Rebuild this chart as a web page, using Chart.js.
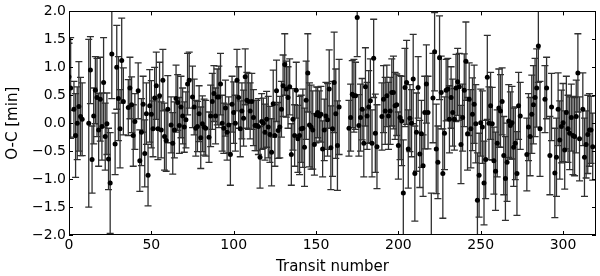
<!DOCTYPE html>
<html>
<head>
<meta charset="utf-8">
<script src="https://cdn.jsdelivr.net/npm/chart.js@4/dist/chart.umd.min.js"></script>
<style>
  html, body { margin: 0; padding: 0; background: #fff; }
  #wrap { width: 600px; height: 276px; }
</style>
</head>
<body>
<div id="wrap"><canvas id="ocChart" width="600" height="276"></canvas></div>
<script>
// Datos (número de tránsito, O-C en minutos, error)
const transit = [
  0, 1, 3, 4, 5, 6, 7, 8, 12, 13, 14, 15, 16, 17, 18, 19, 20, 21, 22, 23, 24, 25, 26, 28, 29, 30, 31, 32, 33, 36, 37, 38, 39, 40,
  42, 43, 44, 45, 46, 47, 48, 49, 50, 51, 52, 53, 54, 55, 56, 57, 58, 59, 60, 62, 63, 64, 65, 66, 67, 68, 69, 70, 71, 72, 73, 75, 76, 77, 78, 79, 80, 81,
  82, 83, 85, 86, 87, 88, 89, 90, 91, 92, 93, 94, 95, 96, 97, 98, 99, 100, 101, 102, 103, 104, 105, 106, 107, 108, 109, 110, 111, 112, 113, 114, 115, 116, 117, 118, 119, 120, 121, 122, 123, 124, 125,
  126, 127, 128, 129, 130, 131, 132, 133, 134, 135, 136, 137, 138, 139, 140, 141, 142, 143, 144, 145, 146, 147, 148, 149, 150, 151, 152, 153, 154, 155, 156, 157, 158, 159, 160, 161, 162, 163, 164,
  170, 171, 172, 173, 174, 175, 176, 177, 178, 179, 180, 181, 182, 183, 184, 185, 186, 187, 190, 191, 192, 193, 194, 195, 196, 197, 198, 199, 200, 201, 202, 203, 204, 205, 206, 207, 208,
  209, 210, 211, 212, 213, 214, 215, 216, 217, 218, 220, 221, 222, 223, 224, 225, 226, 227, 228, 229, 230, 231, 232, 233, 234, 235, 236, 237, 238, 239, 240, 241, 242, 243, 244, 245, 246, 247, 248, 249,
  250, 251, 252, 253, 254, 255, 256, 257, 258, 259, 260, 261, 262, 263, 264, 265, 266, 267, 268, 269, 270, 271, 272, 273, 274, 278, 279, 280, 281, 282, 283, 284, 285, 286, 289, 290, 292, 293,
  295, 296, 297, 298, 299, 300, 301, 302, 303, 304, 305, 306, 307, 308, 309, 310, 312, 313, 314, 315, 316, 317, 318
];
const ocMin = [
  0.83, 0.63, 0.25, -0.22, 0.0, 0.3, 0.12, 0.07, 0.0, 0.95, -0.65, 0.13, 0.59, 0.46, -0.12, 0.43, -0.06, 0.73, -0.24, -0.01, -0.64, -1.07, 1.24, -0.37, 1.0, 0.44, -0.1, 1.12, 0.39, 0.28, 0.63, 0.33, -0.22, 0.03,
  0.58, -0.67, -0.16, 0.34, -0.54, 0.17, -0.93, 0.31, 0.16, -0.1, 0.45, 0.67, -0.1, 0.49, -0.12, 0.77, -0.24, -0.31, 0.25, -0.03, -0.36, -0.12, 0.44, 0.37, -0.04, 0.29, 0.13, -0.07, 0.06, 0.7, 0.77, 0.47, 0.29, -0.09, -0.06, 0.17, -0.26, -0.01,
  -0.07, -0.09, -0.25, 0.13, 0.39, 0.53, 0.13, 0.47, 0.47, 0.7, 0.0, -0.09, 0.27, -0.16, -0.03, -0.56, 0.34, 0.19, 0.0, 0.77, 0.46, -0.1, 0.22, 0.09, 0.83, 0.41, 0.39, 0.22, 0.39, 0.1, -0.04, -0.04, -0.06, -0.61, 0.03, 0.0, -0.16, 0.07, -0.07, -0.2, -0.52, 0.35, -0.22,
  0.58, -0.13, -0.07, 0.25, 0.67, 1.05, 0.61, 0.46, 0.65, -0.56, 0.07, -0.22, 0.59, -0.28, -0.22, -0.1, -0.09, -0.43, 0.41, 0.9, -0.03, -0.07, -0.12, -0.38, 0.15, 0.19, 0.13, 0.16, -0.46, -0.12, 0.13, 0.06, 0.61, -0.44, -0.1, 0.73, 0.17, -0.4, 0.29,
  -0.09, 0.1, 0.52, 0.49, 0.49, 1.89, -0.04, 0.1, 0.25, -0.36, 0.65, 0.13, 0.29, 0.4, -0.36, 1.16, -0.18, -0.42, 0.12, 0.43, 0.22, 0.49, 0.13, 0.22, 0.55, 0.55, 0.31, 0.33, -0.4, 0.1, 0.04, -1.25, 0.64, 0.73, -0.46, 0.09, 0.0,
  0.79, -0.9, -0.16, 0.64, -0.55, -0.19, -0.76, 0.19, 0.7, 0.19, -2.3, 0.45, 1.28, -0.46, -0.7, 1.17, 0.55, -0.9, -0.18, 0.59, 0.61, 0.07, 0.46, 0.19, 0.07, 0.63, 0.74, 0.65, -0.38, 0.1, 0.59, 1.11, -0.19, 0.43, -0.1, 0.16, 0.34, -0.01, -1.38, -0.93,
  0.01, -0.07, -1.07, -0.65, 0.82, 0.0, 0.31, -0.01, -0.67, -0.86, -0.36, 0.27, 0.22, 0.39, -0.58, -0.99, -0.7, 0.04, -0.04, 0.01, -0.43, -0.36, -0.9, 0.31, 0.13, -0.56, -0.07, -0.24, 0.16, 0.33, 0.46, 0.63, 1.38, -0.1, 0.43, 0.63, -0.58, 0.29,
  -0.89, -0.61, 0.25, -0.3, -0.06, 0.01, -0.48, 0.19, -0.1, -0.18, 0.1, -0.22, -0.24, 0.12, 0.9, -0.28, 0.25, -0.61, -0.38, -0.2, -0.12, -0.12, -0.42
];
const ocErr = [
  0.6, 0.9, 0.5, 0.75, 0.65, 0.8, 0.7, 0.65, 1.5, 0.6, 0.6, 0.5, 0.6, 0.7, 0.65, 0.75, 0.6, 0.8, 0.6, 0.55, 0.55, 0.9, 0.8, 0.55, 0.75, 0.75, 0.7, 0.76, 0.6, 0.5, 0.55, 0.5, 0.55, 0.5,
  0.5, 0.55, 0.6, 0.5, 0.6, 0.55, 0.55, 0.65, 0.6, 0.5, 0.55, 0.6, 0.55, 0.6, 0.5, 0.55, 0.6, 0.55, 0.6, 0.5, 0.55, 0.5, 0.6, 0.5, 0.5, 0.55, 0.5, 0.45, 0.5, 0.55, 0.5, 0.55, 0.5, 0.5, 0.45, 0.5, 0.55, 0.5,
  0.5, 0.5, 0.45, 0.55, 0.5, 0.5, 0.5, 0.5, 0.55, 0.55, 0.5, 0.45, 0.5, 0.5, 0.5, 0.55, 0.5, 0.55, 0.5, 0.55, 0.55, 0.5, 0.5, 0.5, 0.5, 0.5, 0.5, 0.5, 0.5, 0.5, 0.45, 0.45, 0.5, 0.55, 0.5, 0.45, 0.5, 0.5, 0.55, 0.5, 0.6, 0.6, 0.55,
  0.55, 0.5, 0.55, 0.5, 0.55, 0.55, 0.5, 0.55, 0.5, 0.55, 0.55, 0.55, 0.5, 0.6, 0.7, 0.6, 0.7, 0.7, 0.7, 0.7, 0.75, 0.75, 0.7, 0.55, 0.5, 0.45, 0.45, 0.5, 0.5, 0.55, 0.6, 0.65, 0.7, 0.75, 0.85, 0.9, 0.8, 0.8, 0.85,
  0.5, 0.6, 0.6, 0.65, 0.6, 0.7, 0.55, 0.6, 0.55, 0.6, 0.7, 0.6, 0.65, 0.75, 0.6, 0.7, 0.7, 0.75, 0.6, 0.6, 0.6, 0.55, 0.6, 0.6, 0.6, 0.65, 0.6, 0.55, 0.6, 0.75, 0.8, 0.95, 0.7, 0.75, 0.7, 0.6, 0.6,
  0.8, 0.85, 0.7, 0.55, 0.6, 0.6, 0.55, 0.65, 0.7, 0.65, 1.05, 0.8, 0.7, 0.8, 0.65, 0.75, 0.65, 0.8, 0.65, 0.55, 0.55, 0.6, 0.55, 0.6, 0.55, 0.6, 0.6, 0.6, 0.7, 0.6, 0.65, 0.7, 0.65, 0.65, 0.7, 0.65, 0.7, 0.7, 0.85, 0.75,
  0.6, 0.65, 0.75, 0.7, 0.75, 0.65, 0.6, 0.65, 0.6, 0.7, 0.6, 0.7, 0.65, 0.6, 0.7, 0.75, 0.7, 0.65, 0.6, 0.65, 0.7, 0.65, 0.75, 0.6, 0.6, 0.65, 0.6, 0.7, 0.7, 0.7, 0.7, 0.7, 0.65, 0.85, 0.6, 0.55, 0.7, 0.6,
  0.8, 0.7, 0.65, 0.7, 0.65, 0.7, 0.7, 0.65, 0.6, 0.65, 0.6, 0.7, 0.7, 0.65, 0.7, 0.75, 0.65, 0.7, 0.6, 0.7, 0.65, 0.6, 0.6
];
const xTicks = [0, 50, 100, 150, 200, 250, 300];
const yTicks = [-2.0, -1.5, -1.0, -0.5, 0.0, 0.5, 1.0, 1.5, 2.0];

const FONT = "'DejaVu Sans', sans-serif";

// Barras de error (no vienen con Chart.js)
const errorBars = {
  id: 'errorBars',
  beforeDatasetsDraw(chart) {
    const { ctx, chartArea, scales } = chart;
    ctx.save();
    ctx.beginPath();
    ctx.rect(chartArea.left, chartArea.top, chartArea.right - chartArea.left, chartArea.bottom - chartArea.top);
    ctx.clip();
    ctx.strokeStyle = '#303030';
    ctx.lineWidth = 1.3;
    transit.forEach((t, i) => {
      const x = scales.x.getPixelForValue(t);
      const y1 = scales.y.getPixelForValue(ocMin[i] + ocErr[i]);
      const y2 = scales.y.getPixelForValue(ocMin[i] - ocErr[i]);
      ctx.beginPath();
      ctx.moveTo(x, y1); ctx.lineTo(x, y2);
      ctx.moveTo(x - 3.5, y1); ctx.lineTo(x + 3.5, y1);
      ctx.moveTo(x - 3.5, y2); ctx.lineTo(x + 3.5, y2);
      ctx.stroke();
    });
    ctx.restore();
  }
};

// Marco y ticks hacia dentro, estilo matplotlib
const frameTicks = {
  id: 'frameTicks',
  afterDraw(chart) {
    const { ctx, chartArea: a, scales } = chart;
    ctx.save();
    ctx.strokeStyle = '#000';
    ctx.lineWidth = 1;
    ctx.strokeRect(Math.round(a.left) + 0.5, Math.round(a.top) + 0.5, Math.round(a.right - a.left) - 1, Math.round(a.bottom - a.top) - 1);
    ctx.beginPath();
    xTicks.forEach(v => {
      const x = Math.round(scales.x.getPixelForValue(v)) + 0.5;
      ctx.moveTo(x, a.bottom); ctx.lineTo(x, a.bottom - 4);
      ctx.moveTo(x, a.top); ctx.lineTo(x, a.top + 4);
    });
    yTicks.forEach(v => {
      const y = Math.round(scales.y.getPixelForValue(v)) + 0.5;
      ctx.moveTo(a.left, y); ctx.lineTo(a.left + 4, y);
      ctx.moveTo(a.right, y); ctx.lineTo(a.right - 4, y);
    });
    ctx.stroke();
    ctx.restore();
  }
};

const ctx = document.getElementById('ocChart').getContext('2d');
const ocChart = new Chart(ctx, {
  type: 'scatter',
  data: {
    datasets: [{
      data: transit.map((t, i) => ({ x: t, y: ocMin[i] })),
      backgroundColor: '#000',
      borderColor: '#000',
      pointRadius: 2.5,
      pointBorderWidth: 0
    }]
  },
  options: {
    responsive: false,
    animation: false,
    layout: { padding: { top: 10, right: 3, left: 0, bottom: 0 } },
    plugins: { legend: { display: false }, tooltip: { enabled: false } },
    scales: {
      x: {
        type: 'linear', min: 0, max: 320,
        grid: { display: false, drawTicks: false },
        border: { display: false },
        afterBuildTicks: s => { s.ticks = xTicks.map(v => ({ value: v })); },
        afterFit: s => { s.height = 41; },
        ticks: { color: '#000', font: { family: FONT, size: 14 }, padding: 2, maxRotation: 0, callback: v => String(v) },
        title: { display: true, text: 'Transit number', color: '#000', font: { family: FONT, size: 15 }, padding: { top: 0, bottom: 0 } }
      },
      y: {
        type: 'linear', min: -2, max: 2,
        grid: { display: false, drawTicks: false },
        border: { display: false },
        afterBuildTicks: s => { s.ticks = yTicks.map(v => ({ value: v })); },
        afterFit: s => { s.width = 69; },
        ticks: {
          color: '#000', font: { family: FONT, size: 14 }, padding: 3,
          callback: v => (v < 0 ? '\u2212' : '') + Math.abs(v).toFixed(1)
        },
        title: { display: true, text: 'O-C [min]', color: '#000', font: { family: FONT, size: 15 }, padding: { top: 4, bottom: 0 } }
      }
    }
  },
  plugins: [errorBars, frameTicks]
});
</script>
</body>
</html>
